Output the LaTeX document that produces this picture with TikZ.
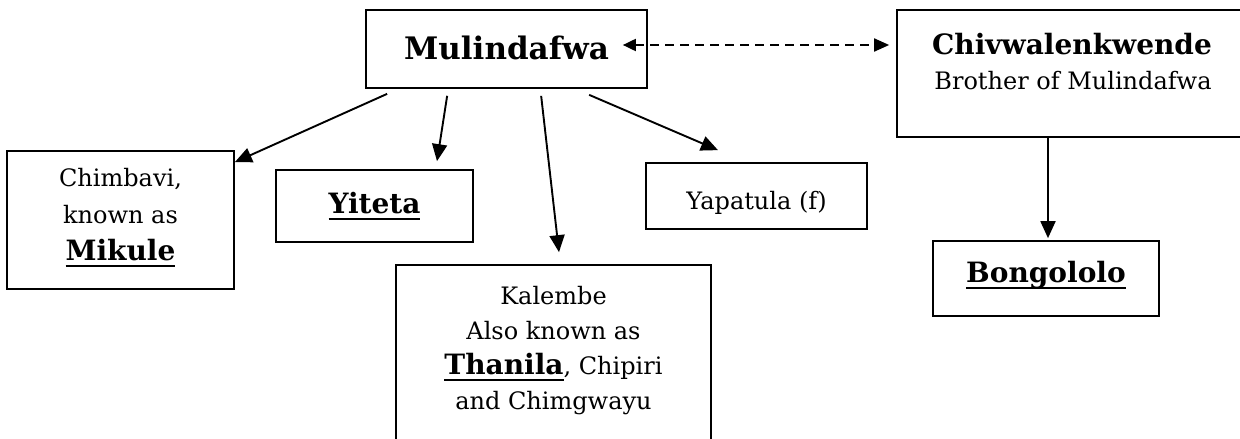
\documentclass[tikz,border=0pt]{standalone}
\usepackage{fontspec}
\setmainfont{DejaVu Serif}
\usetikzlibrary{arrows.meta,calc}
\newcommand\myul[1]{\setbox0\hbox{#1}\rlap{\rule[-7pt]{\wd0}{2pt}}\box0}
\newcommand\rg{\fontsize{24}{30}\selectfont}
\newcommand\bd{\fontsize{28}{34}\selectfont\bfseries}
\begin{document}
\begin{tikzpicture}[x=1pt,y=-1pt,
  box/.style={draw,line width=1.7pt,inner sep=0pt},
  txt/.style={anchor=base,inner sep=0pt,font=\rg},
  arr/.style={line width=1.9pt,-{Triangle[length=17pt,width=15pt]}},
  darr/.style={line width=1.9pt,dash pattern=on 9pt off 6pt,{Triangle[length=13pt,width=12pt]}-{Triangle[length=15pt,width=13pt]}}]
\useasboundingbox (0,0) rectangle (1240,439);
% boxes
\node[box,minimum width=281pt,minimum height=78pt] (M) at (506.5,49) {};
\node[box,minimum width=363pt,minimum height=127pt] (C) at (1078.5,73.5) {};
\node[box,minimum width=227pt,minimum height=138pt] (ch) at (120.5,220) {};
\node[box,minimum width=197pt,minimum height=72pt] (yi) at (374.5,206) {};
\node[box,minimum width=315pt,minimum height=195pt] (ka) at (553.5,362.5) {};
\node[box,minimum width=221pt,minimum height=66pt] (ya) at (756.5,196) {};
\node[box,minimum width=226pt,minimum height=75pt] (bo) at (1046,278.5) {};
% texts
\node[txt,font=\fontsize{31}{36}\selectfont\bfseries] (tM) at (506.5,59) {Mulindafwa};
\node[txt,font=\bd] (tC1) at (1072,54) {Chivwalenkwende};
\node[txt] (tC2) at (1073,89) {Brother of Mulindafwa};
\node[txt] (tch1) at (120.5,186) {Chimbavi,};
\node[txt] (tch2) at (120.5,223) {known as};
\node[txt,font=\bd] (tch3) at (120.5,260) {\myul{Mikule}};
\node[txt,font=\bd] (tyi) at (374.5,213) {\myul{Yiteta}};
\node[txt] (tya) at (756.5,209) {Yapatula (f)};
\node[txt,font=\bd] (tbo) at (1046,282) {\myul{Bongololo}};
\node[txt] (tka1) at (553.5,304) {Kalembe};
\node[txt] (tka2) at (553.5,339) {Also known as};
\node[txt] (tka3) at (553.5,374) {{\bd\myul{Thanila}}, Chipiri};
\node[txt] (tka4) at (553.5,409) {and Chimgwayu};
% connectors
\coordinate (dL) at ($(M.east)+(-25,-4)$);
\coordinate (dR) at ($(dL -| C.west)+(-7,0)$);
\draw[darr] (dL) -- (dR);
\draw[arr] ($(M.south west)+(22,5)$) -- ($(ch.north east)+(0,12)$);
\draw[arr] ($(M.south west)+(82,7)$) -- ($(yi.north)+(62.5,-8)$);
\draw[arr] ($(M.south west)+(176,7)$) -- ($(ka.north)+(5.5,-12)$);
\draw[arr] ($(M.south west)+(224,6)$) -- ($(ya.north)+(-38.5,-12)$);
\draw[arr] ($(bo.north |- C.south)+(2,0)$) -- ($(bo.north)+(2,-2)$);
\end{tikzpicture}
\end{document}
